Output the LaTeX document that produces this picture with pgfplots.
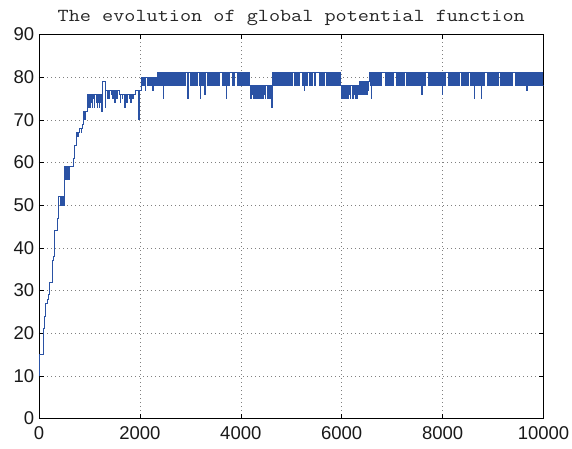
\documentclass[border=0pt]{standalone}
\usepackage{fontspec}
\setmainfont{Liberation Sans}
\newfontfamily\titlefont[FakeStretch=1.18]{lmmono12-regular.otf}
\usepackage{pgfplots}
\pgfplotsset{compat=1.18}
\definecolor{mblue}{RGB}{42,82,164}
\begin{document}
\begin{tikzpicture}
\begin{axis}[name=ax, scale only axis, width=504.5pt, height=384pt,
 xmin=0,xmax=10000,ymin=0,ymax=90,
 xtick={0,2000,4000,6000,8000,10000}, ytick={0,10,...,90},
 scaled ticks=false,
 /pgf/number format/1000 sep={},
 /pgf/number format/assume math mode=true,
 ticklabel style={font=\fontsize{18.5}{18.5}\selectfont, text=black!90},
 xticklabel style={inner sep=0pt, anchor=north, yshift=-8.2pt},
 yticklabel style={inner sep=0pt, anchor=east, xshift=-4.7pt},
 tick align=inside, major tick length=5pt,
 tick style={black, line width=0.6pt},
 axis line style={black, line width=0.9pt},
 grid=major, major grid style={gray, line width=0.5pt, dash pattern=on 0.8pt off 3.2pt},
 title={The evolution of global potential function},
 title style={font=\titlefont\fontsize{18.3}{18.3}\selectfont, text=black!85, at={(0.5,1)}, anchor=base, yshift=6.5pt, inner sep=0pt},
]
\addplot[const plot, color=mblue, line width=0.9pt] coordinates {
(0,10)(18,15)(82,19)(88,21)(102,24)(135,27)(172,28)(188,29)(204,32)(268,37)(278,38)(300,44)(360,47)(380,51)(392,52)(418,50)(428,52)(452,50)(462,52)(488,50)(500,52)(514,59)(528,56)(540,59)(555,56)(566,59)(584,56)(596,59)(678,61)(712,64)(745,67)(772,66)(790,67)(810,68)(838,67)(848,68)(862,69)(872,72)(884,70)(894,72)(906,70)(914,72)(940,72)
(958,76)(968,73)(976,76)(988,74)(996,76)(1008,73)(1016,76)(1040,74)(1048,76)(1060,73)(1068,76)(1080,75)(1088,76)(1100,73)(1108,76)(1135,74)(1143,76)(1155,73)(1163,76)(1175,74)(1183,76)(1200,73)(1208,76)(1225,74)(1233,76)(1240,72)(1250,76)(1262,79)(1316,73)(1326,77)(1352,75)(1360,77)(1385,75)(1393,77)(1430,76)(1438,77)(1465,75)(1472,77)(1500,74)(1508,77)(1545,75)(1552,77)(1587,76)(1612,74)(1620,76)(1652,75)(1660,76)(1700,73)(1708,76)(1742,74)(1750,76)(1785,75)(1793,76)(1822,74)(1830,76)(1862,75)(1870,76)(1917,77)(1976,70)(1986,77)(2028,80)
(2045,78)(2062,80)(2078,78)(2092,80)(2110,77)(2118,80)(2140,78)(2152,80)(2175,78)(2185,80)(2215,78)(2225,80)(2255,77)(2262,80)(2290,78)(2300,80)(2330,78)(2340,80)
(2352,81)(2368,78)(2384,81)(2402,78)(2415,81)(2432,78)(2440,81)(2457,75)(2465,81)(2488,78)(2502,81)(2520,78)(2530,81)(2548,78)(2560,81)(2585,78)(2598,81)(2612,78)(2625,81)(2650,78)(2662,81)(2680,78)(2692,81)(2712,78)(2722,81)(2745,78)(2758,81)(2772,78)(2785,81)(2808,78)(2820,81)(2838,78)(2850,81)(2868,78)(2880,81)(2900,78)(2912,81)(2935,78)(2942,81)(2951,75)(2960,81)
(3010,78)(3025,81)(3042,78)(3055,81)(3075,78)(3088,81)(3110,78)(3122,81)(3140,78)(3150,81)(3172,78)(3180,81)(3195,75)(3203,81)(3222,78)(3235,81)(3255,78)(3266,81)(3281,76)(3290,81)
(3340,78)(3352,81)(3372,78)(3385,81)(3402,78)(3415,81)(3435,78)(3448,81)(3470,78)(3482,81)(3500,78)(3512,81)(3535,78)(3545,81)(3565,78)(3578,81)
(3640,78)(3652,81)(3670,78)(3682,81)(3700,78)(3709,75)(3717,81)(3735,78)(3748,81)(3765,78)(3775,81)(3842,78)(3855,81)(3868,78)(3875,81)(3940,78)(3952,81)(3968,78)(3980,81)(3995,78)(4005,81)(4040,78)(4052,81)(4070,78)(4082,81)(4100,78)(4112,81)(4130,78)(4142,81)(4160,78)(4165,81)(4172,78)
(4182,75)(4192,78)(4205,75)(4215,78)(4228,76)(4238,78)(4252,75)(4262,78)(4290,75)(4300,78)(4312,75)(4322,78)(4335,76)(4345,78)(4358,75)(4368,78)(4395,75)(4405,78)(4418,75)(4428,78)(4440,75)(4450,78)(4465,76)(4475,78)(4488,75)(4498,78)(4525,75)(4535,78)(4548,75)(4558,78)(4570,76)(4580,78)(4595,75)(4603,78)(4612,73)(4626,81)
(4640,78)(4652,81)(4670,78)(4682,81)(4700,78)(4712,81)(4732,78)(4742,81)(4762,78)(4775,81)(4795,78)(4808,81)(4828,78)(4838,81)(4858,78)(4870,81)(4890,78)(4902,81)(4925,78)(4935,81)(4955,78)(4968,81)(4990,78)(5000,81)(5020,78)(5032,81)(5055,78)(5065,81)(5092,78)(5102,81)(5120,78)(5130,81)(5150,78)(5160,81)(5215,78)(5228,81)(5245,78)(5257,77)(5265,81)(5285,78)(5298,81)(5320,78)(5330,81)(5352,78)(5365,81)(5385,78)(5398,81)(5420,78)(5430,81)(5452,78)(5465,81)(5478,78)(5488,81)(5550,78)(5562,81)(5588,78)(5600,81)(5620,78)(5632,81)(5655,78)(5665,81)(5688,78)(5700,81)(5722,78)(5735,81)(5755,78)(5768,81)(5790,78)(5800,81)(5822,78)(5835,81)(5855,78)(5868,81)(5890,78)(5900,81)(5922,78)(5935,81)(5955,78)(5965,81)(5984,78)
(5994,75)(6004,78)(6016,75)(6026,78)(6040,76)(6050,78)(6062,75)(6072,78)(6100,75)(6110,78)(6122,75)(6132,78)(6145,76)(6155,78)(6168,75)(6178,78)(6205,75)(6215,78)(6228,75)(6238,78)(6250,76)(6260,78)(6272,75)(6282,78)(6300,75)(6310,78)(6322,76)(6332,78)(6344,79)
(6354,76)(6364,79)(6376,76)(6386,79)(6398,77)(6408,79)(6420,76)(6430,79)(6442,76)(6452,79)(6475,76)(6485,79)(6497,76)(6507,79)(6520,77)(6530,79)(6555,81)(6575,78)(6585,75)(6594,81)
(6610,78)(6622,81)(6642,78)(6655,81)(6675,78)(6688,81)(6708,78)(6720,81)(6740,78)(6752,81)(6772,78)(6785,81)(6860,78)(6872,81)(6892,78)(6905,81)(6925,78)(6938,81)(6958,78)(6970,81)(6990,78)(7002,81)(7022,78)(7035,81)(7095,78)(7108,81)(7128,78)(7140,81)(7160,78)(7172,81)(7192,78)(7205,81)(7225,78)(7238,81)(7290,78)(7302,81)(7322,78)(7335,81)(7355,78)(7368,81)(7388,78)(7400,81)(7420,78)(7432,81)(7452,78)(7465,81)(7485,78)(7498,81)(7518,78)(7530,81)(7550,78)(7562,81)(7576,78)(7583,76)(7592,81)(7612,78)(7625,81)(7645,78)(7658,81)(7710,78)(7722,81)(7742,78)(7755,81)(7775,78)(7788,81)(7808,78)(7820,81)(7840,78)(7852,81)(7872,78)(7885,81)(7905,78)(7918,81)(7938,78)(7950,81)(7970,78)(7990,76)(7998,81)
(8018,78)(8030,81)(8050,78)(8062,81)(8120,78)(8132,81)(8152,78)(8165,81)(8185,78)(8198,81)(8218,78)(8230,81)(8250,78)(8262,81)(8282,78)(8295,81)(8315,78)(8328,81)(8380,78)(8392,81)(8412,78)(8425,81)(8445,78)(8458,81)(8478,78)(8490,81)(8510,78)(8522,81)(8542,78)(8555,81)(8575,78)(8588,81)(8608,78)(8630,75)(8638,81)(8658,78)(8670,81)(8690,78)(8702,81)(8722,78)(8735,81)(8750,78)(8761,75)(8769,81)(8790,78)(8802,81)(8822,78)(8835,81)(8890,78)(8902,81)(8922,78)(8935,81)(8955,78)(8968,81)(8988,78)(9000,81)
(9020,78)(9032,81)(9052,78)(9065,81)(9085,78)(9098,81)(9150,78)(9162,81)(9182,78)(9195,81)(9215,78)(9228,81)(9248,78)(9260,81)(9280,78)(9292,81)(9312,78)(9325,81)(9345,78)(9358,81)(9378,78)(9390,81)(9440,78)(9452,81)(9472,78)(9485,81)(9505,78)(9518,81)(9538,78)(9550,81)(9570,78)(9582,81)(9602,78)(9615,81)(9635,78)(9648,81)(9662,78)(9670,77)(9678,81)(9698,78)(9710,81)(9730,78)(9742,81)(9762,78)(9775,81)(9795,78)(9808,81)(9828,78)(9840,81)(9860,78)(9872,81)(9892,78)(9905,81)(9925,78)(9938,81)(9958,78)(9970,81)(9985,78)(10000,78)
};
\end{axis}
\path[use as bounding box] ([shift={(-39pt,-29.5pt)}]ax.south west) rectangle ([shift={(28.5pt,34.5pt)}]ax.north east);
\end{tikzpicture}
\end{document}
